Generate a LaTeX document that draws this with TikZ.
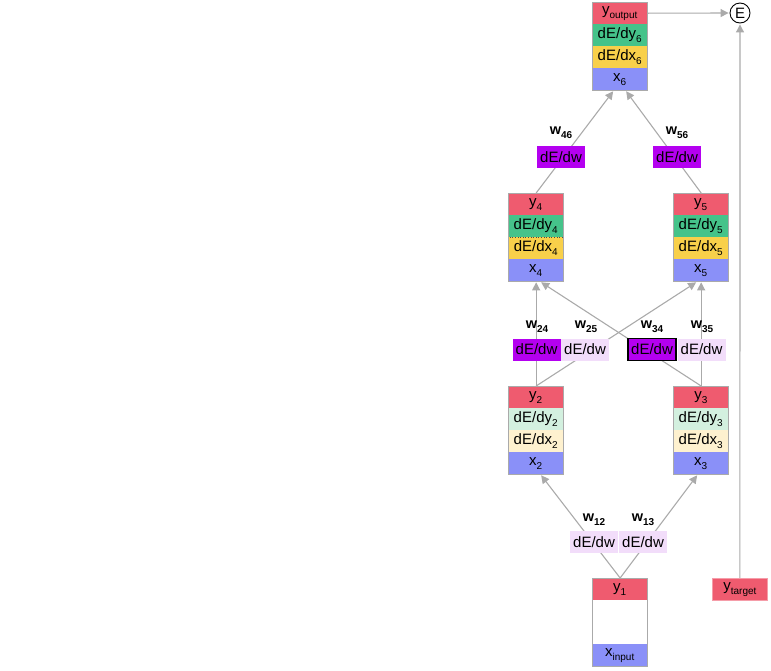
\documentclass[tikz,border=0pt]{standalone}
\usepackage{fontspec}
\setmainfont{Liberation Sans}
\usetikzlibrary{arrows.meta,calc}
\pgfdeclarelayer{bg}
\pgfsetlayers{bg,main}
\definecolor{cred}{HTML}{EF5B6F}
\definecolor{cgreen}{HTML}{45C38A}
\definecolor{cyellow}{HTML}{F8D04A}
\definecolor{cblue}{HTML}{8A90F8}
\definecolor{clgreen}{HTML}{D3F0DF}
\definecolor{clyellow}{HTML}{FEF1CF}
\definecolor{cpurple}{HTML}{B400F0}
\definecolor{clpurple}{HTML}{F2DDFA}
\definecolor{cgray}{HTML}{AAAAAA}
\newcommand\mysub[1]{\raisebox{-0.5ex}{\fontsize{10}{11}\selectfont #1}}
\begin{document}
\begin{tikzpicture}[x=1pt,y=-1pt,
  cell/.style={rectangle, minimum width=55pt, minimum height=22pt, inner sep=0pt,
    font=\fontsize{15}{17}\selectfont, anchor=north west},
  frame/.style={rectangle, draw=cgray, line width=1.3pt, minimum width=55pt,
    minimum height=88pt, inner sep=0pt, anchor=north west},
  wbox/.style={rectangle, minimum width=48pt, minimum height=22pt, inner sep=0pt,
    font=\fontsize{15}{17}\selectfont},
  wlab/.style={font=\bfseries\fontsize{14.5}{16}\selectfont, inner sep=0pt},
  conn/.style={draw=cgray, line width=1.1pt, -{Triangle[length=8pt,width=8pt]}},
  dotb/.style={draw=black!70, dotted, line width=0.6pt}
]
\useasboundingbox (0,0) rectangle (771,670);

% node 6
\node[cell,fill=cred] (y6) at (592,2) {y\mysub{output}};
\node[cell,fill=cgreen] (dy6) at (592,24) {dE/dy\mysub{6}};
\node[cell,fill=cyellow] (dx6) at (592,46) {dE/dx\mysub{6}};
\node[cell,fill=cblue] (x6) at (592,68) {x\mysub{6}};
\node[frame] (n6) at (592,2) {};

% node 4
\node[cell,fill=cred] (y4) at (508,193) {y\mysub{4}};
\node[cell,fill=cgreen] (dy4) at (508,215) {dE/dy\mysub{4}};
\node[cell,fill=cyellow,dotb] (dx4) at (508,237) {dE/dx\mysub{4}};
\node[cell,fill=cblue] (x4) at (508,259) {x\mysub{4}};
\node[frame] (n4) at (508,193) {};

% node 5
\node[cell,fill=cred] (y5) at (673,193) {y\mysub{5}};
\node[cell,fill=cgreen] (dy5) at (673,215) {dE/dy\mysub{5}};
\node[cell,fill=cyellow] (dx5) at (673,237) {dE/dx\mysub{5}};
\node[cell,fill=cblue] (x5) at (673,259) {x\mysub{5}};
\node[frame] (n5) at (673,193) {};

% node 2
\node[cell,fill=cred] (y2) at (508,386) {y\mysub{2}};
\node[cell,fill=clgreen] (dy2) at (508,408) {dE/dy\mysub{2}};
\node[cell,fill=clyellow] (dx2) at (508,430) {dE/dx\mysub{2}};
\node[cell,fill=cblue] (x2) at (508,452) {x\mysub{2}};
\node[frame] (n2) at (508,386) {};

% node 3
\node[cell,fill=cred,dotb] (y3) at (673,386) {y\mysub{3}};
\node[cell,fill=clgreen] (dy3) at (673,408) {dE/dy\mysub{3}};
\node[cell,fill=clyellow] (dx3) at (673,430) {dE/dx\mysub{3}};
\node[cell,fill=cblue] (x3) at (673,452) {x\mysub{3}};
\node[frame] (n3) at (673,386) {};

% node 1
\node[cell,fill=cred] (y1) at (592,578) {y\mysub{1}};
\node[cell,fill=white,minimum height=44pt] (m1) at (592,600) {};
\node[cell,fill=cblue] (x1) at (592,644) {x\mysub{input}};
\node[frame] (n1) at (592,578) {};

% target and error
\node[cell,fill=cred,draw=cred!60,line width=0.8pt] (yt) at (712,578) {y\mysub{target}};
\node[circle, draw=black, line width=0.9pt, minimum size=20pt, inner sep=0pt,
  font=\fontsize{15}{17}\selectfont] (E) at (740,13) {E};

% weight boxes
\node[wbox,fill=cpurple] (w46) at (561,157) {dE/dw};
\node[wbox,fill=cpurple] (w56) at (677,157) {dE/dw};
\node[wbox,fill=cpurple] (w24) at (536.5,349.5) {dE/dw};
\node[wbox,fill=clpurple] (w25) at (585,349.5) {dE/dw};
\node[wbox,fill=cpurple,draw=black,line width=1.8pt] (w34) at (652,349.5) {dE/dw};
\node[wbox,fill=clpurple] (w35) at (701.5,349.5) {dE/dw};
\node[wbox,fill=clpurple] (w12) at (594,542) {dE/dw};
\node[wbox,fill=clpurple] (w13) at (643,542) {dE/dw};

% weight labels
\node[wlab] (l46) at (561,133) {w\mysub{46}};
\node[wlab] (l56) at (677,133) {w\mysub{56}};
\node[wlab] (l24) at (537,327) {w\mysub{24}};
\node[wlab] (l25) at (586,327) {w\mysub{25}};
\node[wlab] (l34) at (652,327) {w\mysub{34}};
\node[wlab] (l35) at (702,327) {w\mysub{35}};
\node[wlab] (l12) at (594,520) {w\mysub{12}};
\node[wlab] (l13) at (643,520) {w\mysub{13}};

\begin{pgfonlayer}{bg}
\draw[conn] (n1.north) -- ($(n2.south)+(5,0)$);
\draw[conn] (n1.north) -- ($(n3.south)+(-4,0)$);
\draw[conn] (n2.north) -- (n4.south);
\draw[conn] (n2.north) -- ($(n5.south)+(-5,0)$);
\draw[conn] (n3.north) -- ($(n4.south)+(5,0)$);
\draw[conn] (n3.north) -- (n5.south);
\draw[conn] (n4.north) -- ($(n6.south)+(-7,0)$);
\draw[conn] (n5.north) -- ($(n6.south)+(6,0)$);
\draw[conn, shorten >=1pt] (y6.east) -- (E.west);
\draw[conn, shorten >=1pt] (yt.north) -- (E.south);
\end{pgfonlayer}
\end{tikzpicture}
\end{document}
